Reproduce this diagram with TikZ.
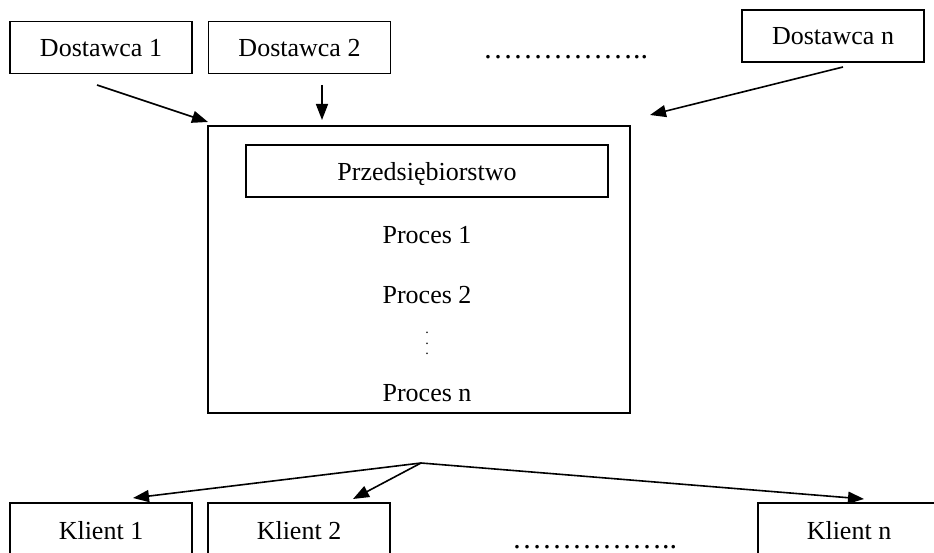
\documentclass[tikz,border=0pt]{standalone}
\usepackage{fontspec}
\setmainfont{Liberation Serif}
\usetikzlibrary{arrows.meta}

\begin{document}
\begin{tikzpicture}[x=1pt,y=-1pt,
	box/.style={draw,line width=1.6pt,minimum width=182pt,minimum height=52pt,inner sep=0pt,text depth=0pt,font=\fontsize{26}{30}\selectfont},
	txt/.style={inner sep=0pt,font=\fontsize{26}{30}\selectfont},
	dots/.style={inner sep=0pt,anchor=base west,font=\fontsize{30}{34}\selectfont},
	arr/.style={line width=1.6pt,-{Triangle[length=16pt,width=12pt]}}]
	\useasboundingbox (0,0) rectangle (934,553);
	\clip (0,0) rectangle (934,553);
	
	\node[box] (D1) at (101,47.5) {Dostawca 1};
	\node[box] (D2) at (299.5,47.5) {Dostawca 2};
	\node[dots] (DD) at (483,59) {……………..};
	\node[box] (Dn) at (833,36) {Dostawca n};
	
	\node[draw,line width=1.6pt,minimum width=422pt,minimum height=287pt,inner sep=0pt] (F) at (419,269.5) {};
	\node[box,minimum width=362pt] (P) at (427,171) {Przedsiębiorstwo};
	\node[txt] (P1) at (427,235) {Proces 1};
	\node[txt] (P2) at (427,295) {Proces 2};
	\node[inner sep=0pt,anchor=base,font=\fontsize{14}{16}\selectfont] (Pv) at (427,354.5) {.\llap{\raisebox{10.5pt}{.}}\llap{\raisebox{21pt}{.}}};
	\node[txt] (Pn) at (427,393) {Proces n};
	
	\node[box,minimum height=54pt] (K1) at (101,530) {Klient 1};
	\node[box,minimum height=54pt] (K2) at (299,530) {Klient 2};
	\node[dots] (KK) at (512,548) {……………..};
	\node[box,minimum height=54pt] (Kn) at (849,530) {Klient n};
	
	\coordinate (D1out) at (97,85);
	\coordinate (D1in) at (208,122);
	\coordinate (D2out) at (322,85);
	\coordinate (D2in) at (322,120);
	\coordinate (Dnout) at (843,67);
	\coordinate (Dnin) at (650,115);
	\coordinate (S) at (421,463);
	\coordinate (K1in) at (133,498);
	\coordinate (K2in) at (353,499);
	\coordinate (Knin) at (864,499);
	
	\draw[arr] (D1out) -- (D1in);
	\draw[arr] (D2out) -- (D2in);
	\draw[arr] (Dnout) -- (Dnin);
	\draw[arr] (S) -- (K1in);
	\draw[arr] (S) -- (K2in);
	\draw[arr] (S) -- (Knin);
\end{tikzpicture}
\end{document}
